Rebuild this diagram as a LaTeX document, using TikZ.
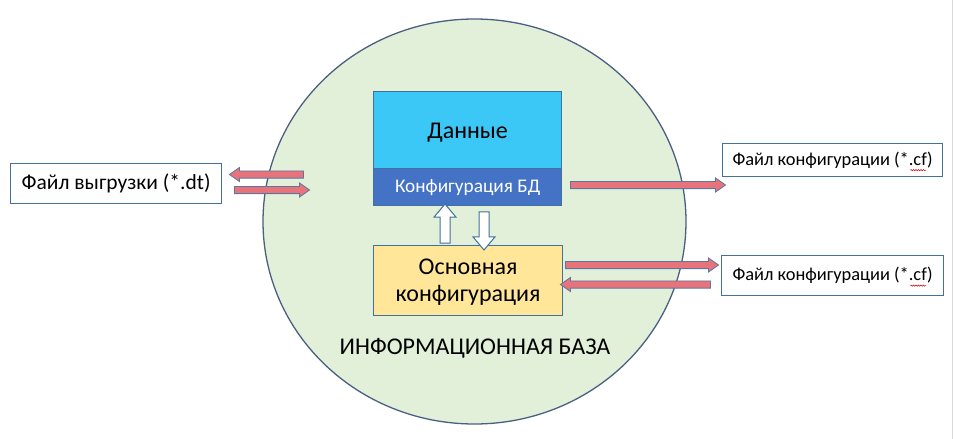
\documentclass[tikz,border=0pt]{standalone}
\usepackage{fontspec}
\setmainfont{Carlito}
\usetikzlibrary{shapes.arrows,decorations.pathmorphing}
\definecolor{circfill}{RGB}{226,239,217}
\definecolor{circline}{RGB}{74,96,130}
\definecolor{boxline}{RGB}{65,113,156}
\definecolor{datafill}{RGB}{60,200,246}
\definecolor{cfgfill}{RGB}{68,114,196}
\definecolor{mainfill}{RGB}{255,230,153}
\definecolor{arrfill}{RGB}{232,115,122}
\definecolor{arrline}{RGB}{90,120,160}
\tikzset{
  filebox/.style={draw=boxline, line width=1.2pt, fill=white, inner sep=0pt, anchor=north west},
  redarrow/.style={single arrow, draw=arrline, line width=0.8pt, fill=arrfill, inner sep=3.2pt,
    single arrow head extend=3.5pt, single arrow tip angle=70, minimum width=13.5pt, anchor=center},
  hollowarrow/.style={single arrow, draw=boxline, line width=1pt, fill=white, inner sep=4.5pt,
    single arrow head extend=6pt, single arrow tip angle=80, minimum width=22pt, anchor=center},
  squiggle/.style={red!80!black, line width=0.5pt, decorate, decoration={snake, amplitude=0.7pt, segment length=2.5pt}},
}
\begin{document}
\begin{tikzpicture}[x=1pt,y=-1pt]
\useasboundingbox (0,0) rectangle (953,439);
\fill[white] (0,0) rectangle (953,439);
\draw[black!15, line width=1pt] (952,0) -- (952,439);
% information base
\draw[circline, fill=circfill, line width=1.3pt] (474.5,221.5) ellipse [x radius=211.5, y radius=202.5];
\node[font=\fontsize{24}{28}\selectfont] (ib) at (475,348) {ИНФОРМАЦИОННАЯ БАЗА};
% data + config DB
\node[filebox, fill=datafill, minimum width=188pt, minimum height=77pt] (data) at (373,91) {};
\node[font=\fontsize{24}{28}\selectfont] (datat) at ([yshift=-3pt]data.center) {Данные};
\node[filebox, fill=cfgfill, minimum width=188pt, minimum height=37pt] (cfg) at (373,168) {};
\node[text=white, font=\fontsize{19.3}{22}\selectfont] (cfgt) at (cfg.center) {Конфигурация БД};
% main config
\node[filebox, fill=mainfill, minimum width=189pt, minimum height=70pt] (main) at (373,245) {};
\node[align=center, font=\fontsize{24}{27}\selectfont] (maint) at ([yshift=-2pt]main.center) {Основная\\конфигурация};
% file boxes
\node[filebox, minimum width=211pt, minimum height=40pt] (dt) at (10,163) {};
\node[font=\fontsize{21.5}{25}\selectfont] (dtt) at (dt.center) {Файл выгрузки (*.dt)};
\node[filebox, minimum width=220pt, minimum height=33pt] (cf1) at (722,143) {};
\node[font=\fontsize{18.4}{21}\selectfont] (cf1t) at (cf1.center) {Файл конфигурации (*.cf)};
\node[filebox, minimum width=222pt, minimum height=40pt] (cf2) at (721,255) {};
\node[font=\fontsize{18.4}{21}\selectfont] (cf2t) at (cf2.center) {Файл конфигурации (*.cf)};
% spell-check squiggles
\draw[squiggle] ([xshift=-26pt,yshift=-10pt]cf1t.east) -- ([xshift=-10pt,yshift=-10pt]cf1t.east);
\draw[squiggle] ([xshift=-26pt,yshift=-10pt]cf2t.east) -- ([xshift=-10pt,yshift=-10pt]cf2t.east);
% red block arrows
\node[redarrow, minimum height=74pt, shape border rotate=180] (a1) at (269,174.5) {};
\node[redarrow, minimum height=75pt] (a2) at (269.5,190) {};
\node[redarrow, minimum height=155pt] (a3) at (645.5,185) {};
\node[redarrow, minimum height=153pt] (a4) at (639.5,265) {};
\node[redarrow, minimum height=150pt, shape border rotate=180] (a5) at (638,284.5) {};
% hollow arrows between boxes
\node[hollowarrow, minimum height=39pt, shape border rotate=90] (up) at (445,226.5) {};
\node[hollowarrow, minimum height=38pt, shape border rotate=270] (down) at (484,228) {};
\end{tikzpicture}
\end{document}
